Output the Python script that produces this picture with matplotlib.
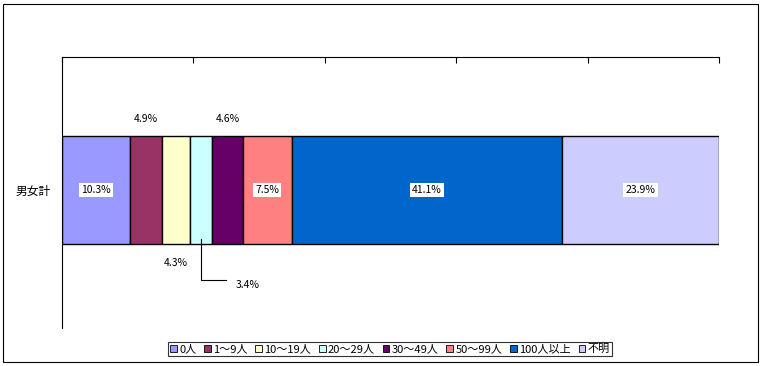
import matplotlib
matplotlib.use("Agg")
import matplotlib.pyplot as plt
from matplotlib.patches import Patch, Rectangle

plt.rcParams['font.family'] = ['Noto Sans CJK JP', 'DejaVu Sans']

# ================= DATA =================
category = "男女計"
labels = ["0人", "1～9人", "10～19人", "20～29人", "30～49人", "50～99人", "100人以上", "不明"]
values = [10.3, 4.9, 4.3, 3.4, 4.6, 7.5, 41.1, 23.9]
colors = ["#9999FF", "#993366", "#FFFFCC", "#CCFFFF", "#660066", "#FF8080", "#0066CC", "#CCCCFF"]

# where each data label goes: inside, above or below the bar
label_pos = ["in", "above", "below", "leader", "above", "in", "in", "in"]

# ================= PLOT =================
fig = plt.figure(figsize=(7.62, 3.66), dpi=100)
fig.patches.append(Rectangle((3 / 762, 4 / 366), 755 / 762, 358 / 366,
                             transform=fig.transFigure, fill=False,
                             edgecolor="black", linewidth=0.8))

ax = fig.add_axes([62 / 762, 1 - 328 / 366, 657 / 762, 271 / 366])
ax.set_xlim(0, 100)
ax.set_ylim(0, 1)

yc = 0.509
h = 0.3985
left = 0
for lab, v, c, pos in zip(labels, values, colors, label_pos):
    ax.barh(yc, v, height=h, left=left, color=c, edgecolor="black", linewidth=1.0)
    mid = left + v / 2
    txt = f"{v:.1f}%"
    if pos == "in":
        ax.text(mid, yc, txt, ha="center", va="center", fontsize=7.5,
                bbox=dict(facecolor="white", edgecolor="none", pad=1.5))
    elif pos == "above":
        ax.text(mid, 0.77, txt, ha="center", va="center", fontsize=7.5)
    elif pos == "below":
        ax.text(mid, 0.24, txt, ha="center", va="center", fontsize=7.5)
    elif pos == "leader":
        ax.plot([mid, mid, mid + 3.8], [0.33, 0.176, 0.176], color="black", linewidth=0.8)
        ax.text(mid + 7, 0.16, txt, ha="center", va="center", fontsize=7.5)
    left += v

ax.set_yticks([yc])
ax.set_yticklabels([category], fontsize=8.5)
ax.tick_params(axis="y", length=0, pad=8)

ax.xaxis.tick_top()
ax.set_xticks([0, 20, 40, 60, 80, 100])
ax.set_xticklabels([])
ax.tick_params(axis="x", direction="in", length=4, width=0.8)

for s in ["right", "bottom"]:
    ax.spines[s].set_visible(False)
for s in ["top", "left"]:
    ax.spines[s].set_linewidth(0.8)

handles = [Patch(facecolor=c, edgecolor="black", linewidth=0.6) for c in colors]
leg = fig.legend(handles, labels, loc="center", bbox_to_anchor=(390 / 762, 1 - 349 / 366),
                 ncol=8, fontsize=8, frameon=True, fancybox=False,
                 handlelength=0.6, handleheight=0.6, handletextpad=0.2,
                 columnspacing=0.7, borderpad=0.2, borderaxespad=0)
leg.get_frame().set_edgecolor("black")
leg.get_frame().set_linewidth(0.8)

fig.savefig("out.png", dpi=100)
